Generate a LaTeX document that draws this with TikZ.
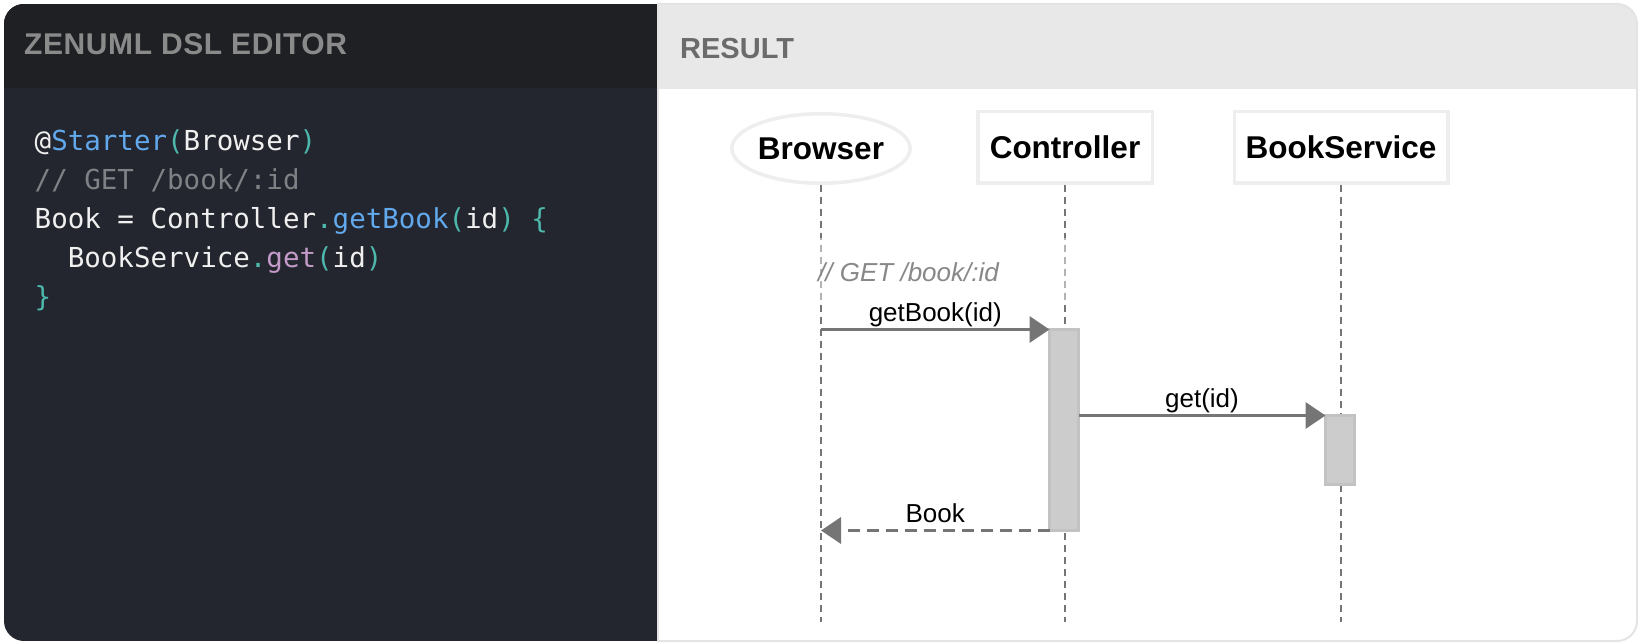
\documentclass[tikz,border=0pt]{standalone}
\usepackage{fontspec}
\usepackage{tikz}
\usetikzlibrary{arrows.meta,shapes.geometric}
\newfontfamily\codefont{DejaVu Sans Mono}
\newfontfamily\seqfont{Liberation Sans}
\newfontfamily\edtitlefont[LetterSpace=2]{Liberation Sans}
\newfontfamily\restitlefont{Liberation Sans}
\definecolor{edhead}{HTML}{1E2024}
\definecolor{edbody}{HTML}{23262E}
\definecolor{edtitle}{HTML}{8A8A8A}
\definecolor{reshead}{HTML}{E8E8E8}
\definecolor{restitle}{HTML}{6B6B6B}
\definecolor{panelline}{HTML}{E4E4E4}
\definecolor{codewhite}{HTML}{F0F0F0}
\definecolor{codeblue}{HTML}{61A8EC}
\definecolor{codeteal}{HTML}{4DB8AC}
\definecolor{codegrey}{HTML}{7F8185}
\definecolor{codepink}{HTML}{C49AC8}
\definecolor{partline}{HTML}{EEEEEE}
\definecolor{msggrey}{HTML}{757575}
\definecolor{actfill}{HTML}{CCCCCC}
\definecolor{actline}{HTML}{C2C2C2}
\definecolor{cmtgrey}{HTML}{888888}

\begin{document}
\begin{tikzpicture}[x=1pt,y=-1pt,
  code/.style={anchor=base west,inner sep=0pt,font=\codefont\fontsize{27.5}{32}\selectfont,text=codewhite},
  part/.style={draw=partline,line width=3.5pt,inner sep=0pt,font=\seqfont\bfseries\fontsize{31.5}{36}\selectfont,minimum height=71.5pt},
  life/.style={draw=msggrey,line width=2pt,dash pattern=on 7pt off 5pt},
  act/.style={draw=actline,fill=actfill,line width=3pt,inner sep=0pt,outer sep=0pt,minimum width=29pt},
  msg/.style={draw=msggrey,line width=3.5pt,-{Triangle[length=20pt,width=26pt]}},
  reply/.style={msg,dash pattern=on 12pt off 7pt},
  lbl/.style={font=\seqfont\fontsize{26}{30}\selectfont,anchor=base,inner sep=0pt,yshift=8pt}]
\useasboundingbox (0,0) rectangle (1642,644);
% panels
\begin{scope}
\clip[rounded corners=20pt] (4,4) rectangle (1637,641);
\fill[edbody] (4,4) rectangle (658,641);
\fill[edhead] (4,4) rectangle (658,88);
\fill[white] (658,4) rectangle (1637,641);
\fill[reshead] (658,4) rectangle (1637,89);
\end{scope}
\begin{scope}
\clip (657,0) rectangle (1642,644);
\draw[panelline,line width=2pt,rounded corners=20pt] (4,4) rectangle (1637,641);
\end{scope}
\draw[panelline,line width=2pt] (658,4) -- (658,641);
\node[anchor=base west,inner sep=0pt,text=edtitle,font=\edtitlefont\bfseries\fontsize{30}{34}\selectfont] (edtitle) at (24,55) {ZENUML DSL EDITOR};
\node[anchor=base west,inner sep=0pt,text=restitle,font=\restitlefont\bfseries\fontsize{29}{33}\selectfont] (restitle) at (680,59) {RESULT};
% editor text
\node[code] (ln1) at (34.5,151) {@\textcolor{codeblue}{Starter}\textcolor{codeteal}{(}Browser\textcolor{codeteal}{)}};
\node[code,text=codegrey] (ln2) at (34.5,190) {// GET /book/:id};
\node[code] (ln3) at (34.5,229) {Book = Controller\textcolor{codeteal}{.}\textcolor{codeblue}{getBook}\textcolor{codeteal}{(}id\textcolor{codeteal}{)} \textcolor{codeteal}{\{}};
\node[code] (ln4) at (34.5,268) {\ \ BookService\textcolor{codeteal}{.}\textcolor{codepink}{get}\textcolor{codeteal}{(}id\textcolor{codeteal}{)}};
\node[code,text=codeteal] (ln5) at (34.5,307) {\}};
% participants
\node[part,ellipse,minimum width=170.5pt,minimum height=69.5pt] (browser) at (821,148.5) {Browser};
\node[part,minimum width=174.5pt] (ctrl) at (1065,147.5) {Controller};
\node[part,minimum width=213.5pt] (svc) at (1341,147.5) {BookService};
\coordinate (lifeend) at (0,622);
\draw[life] (browser.south) -- (browser.south |- lifeend);
\draw[life] (ctrl.south) -- (ctrl.south |- lifeend);
\draw[life] (svc.south) -- (svc.south |- lifeend);
\fill[white,fill opacity=0.45] (812,238) rectangle (1072,303);
\node[act,minimum height=201pt] (ctrlact) at (1064,430) {};
\node[act,minimum height=69pt] (svcact) at (1340,450) {};
% messages
\node[anchor=base west,inner sep=0pt,text=cmtgrey,font=\seqfont\itshape\fontsize{26}{30}\selectfont] (getcmt) at (818,282) {// GET /book/:id};
\draw[msg] (browser.south |- ctrlact.north) -- node[lbl] (getbooklbl) {getBook(id)} (ctrlact.north west);
\draw[msg] (ctrlact.east |- svcact.north) -- node[lbl] (getlbl) {get(id)} (svcact.north west);
\draw[reply] (ctrlact.south west) -- node[lbl] (booklbl) {Book} (browser.south |- ctrlact.south);
\end{tikzpicture}
\end{document}
